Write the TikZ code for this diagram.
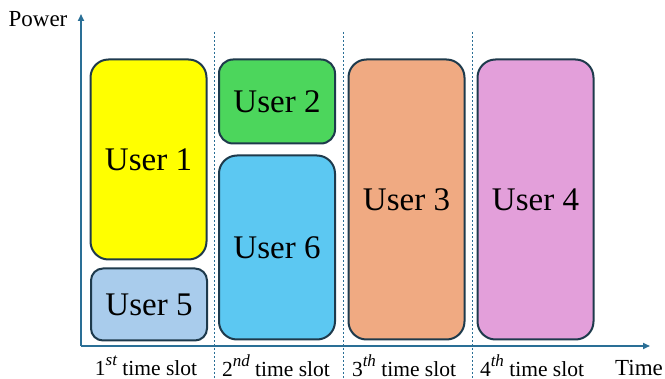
\documentclass[tikz,border=0pt]{standalone}
\usepackage{fontspec}
\setmainfont{Liberation Serif}
\usetikzlibrary{arrows.meta}
\definecolor{axiscol}{HTML}{2A6F96}
\definecolor{edgecol}{HTML}{1E3A4C}
\definecolor{usrA}{HTML}{FFFF00}
\definecolor{usrB}{HTML}{4CD65C}
\definecolor{usrC}{HTML}{F0AA82}
\definecolor{usrD}{HTML}{E39FDA}
\definecolor{usrE}{HTML}{A9CCEC}
\definecolor{usrF}{HTML}{5CC8F2}
\newcommand{\slotsup}[1]{\raisebox{0.45em}{\fontsize{17}{17}\selectfont\itshape #1}}
\tikzset{
  user/.style={draw=edgecol,line width=2pt,rounded corners=18pt,minimum width=116pt,
    inner sep=0pt,font=\fontsize{33}{33}\selectfont},
  slotlab/.style={font=\fontsize{21.5}{22}\selectfont,inner sep=0pt},
  axlab/.style={font=\fontsize{23}{24}\selectfont,inner sep=0pt},
  slotline/.style={axiscol,dash pattern=on 2.5pt off 1.5pt,line width=0.8pt}
}
\begin{document}
\begin{tikzpicture}[x=1pt,y=-1pt]
  \useasboundingbox (0,0) rectangle (665,379);
  % axes
  \coordinate (origin) at (81,346);
  \coordinate (ytip) at (81,14);
  \coordinate (xtip) at (650,346);
  \draw[axiscol,line width=1.6pt,-{Triangle[length=7pt,width=6pt]}] (origin) -- (xtip);
  \draw[axiscol,line width=1.6pt,-{Triangle[length=7pt,width=6pt]}] (origin) -- (ytip);
  \node[axlab] (power) at (38,19) {Power};
  \node[axlab] (time) at (639,368) {Time};

  % slot borders
  \foreach \x/\nm in {214/a,343/b,472/c}{
    \coordinate (top\nm) at (\x,32);
    \coordinate (bot\nm) at (\x,379);
    \draw[slotline] (top\nm) -- (bot\nm);
  }

  % users
  \node[user,fill=usrA,minimum height=200pt] (u1) at (148.5,159.5) {User 1};
  \node[user,fill=usrE,minimum height=72pt,rounded corners=12pt] (u5) at (149,304.5) {User 5};
  \node[user,fill=usrB,minimum height=84pt,rounded corners=14pt] (u2) at (277,101.5) {User 2};
  \node[user,fill=usrF,minimum height=184pt] (u6) at (277,247.5) {User 6};
  \node[user,fill=usrC,minimum height=280pt] (u3) at (406.5,199.5) {User 3};
  \node[user,fill=usrD,minimum height=280pt] (u4) at (535.5,199.5) {User 4};

  % slot labels
  \node[slotlab] (s1) at (146,366) {1\slotsup{st} time slot};
  \node[slotlab] (s2) at (276,366) {2\slotsup{nd} time slot};
  \node[slotlab] (s3) at (404,366) {3\slotsup{th} time slot};
  \node[slotlab] (s4) at (532,366) {4\slotsup{th} time slot};
\end{tikzpicture}
\end{document}
